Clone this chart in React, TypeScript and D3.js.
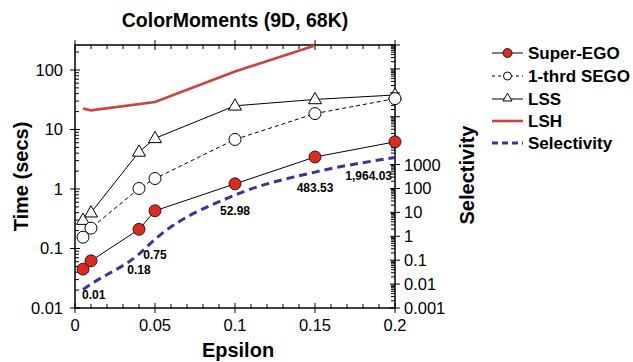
import React from "react";
import * as d3 from "d3";

const epsilons = [0.005, 0.01, 0.04, 0.05, 0.1, 0.15, 0.2];
const superEgo = [0.045, 0.062, 0.21, 0.43, 1.22, 3.45, 6.2];
const thirdSego = [0.155, 0.22, 1.02, 1.5, 6.8, 18.5, 33];
const lss = [0.3, 0.4, 4.2, 7.1, 25, 32, 38];
const lshEps = [0.005, 0.01, 0.05, 0.1, 0.15];
const lsh = [22.5, 21, 29, 94, 258];
const selectivity = [0.006, 0.01, 0.18, 0.75, 52.98, 483.53, 1964.03];
const selLabels = ["0.01", "0.18", "0.75", "52.98", "483.53", "1,964.03"];
const selLabelIdx = [0, 2, 3, 4, 5, 6];
const xTicks = [0, 0.05, 0.1, 0.15, 0.2];
const xTickLabels = ["0", "0.05", "0.1", "0.15", "0.2"];
const yTicks = [0.01, 0.1, 1, 10, 100];
const yTickLabels = ["0.01", "0.1", "1", "10", "100"];
const y2Ticks = [0.001, 0.01, 0.1, 1, 10, 100, 1000];
const y2TickLabels = ["0.001", "0.01", "0.1", "1", "10", "100", "1000"];
const legendNames = ["Super-EGO", "1-thrd SEGO", "LSS", "LSH", "Selectivity"];

const FONT = "Liberation Sans, Arial, Helvetica, sans-serif";
const L = 75, R = 395, T = 45, B = 308;

export default function App() {
  const x = d3.scaleLinear().domain([0, 0.2]).range([L, R]);
  const y = d3.scaleLog().domain([0.01, 263]).range([B, T]);
  const y2 = d3.scaleLog().domain([0.001, 1e8]).range([B, T]);

  const line = (xs: number[], ys: number[], sc: any, curve: any = d3.curveLinear) =>
    d3.line<number>().x((_, i) => x(xs[i])).y((v) => sc(v)).curve(curve)(ys) || "";

  const xMinor = d3.range(0, 0.2001, 0.01).filter((v) => Math.abs((v / 0.05) - Math.round(v / 0.05)) > 1e-6);
  const logMinor = (lo: number, hi: number) => {
    const out: number[] = [];
    for (let e = Math.round(Math.log10(lo)); e < Math.round(Math.log10(hi)) + 1; e++) {
      for (let m = 2; m <= 9; m++) {
        const v = m * Math.pow(10, e);
        if (v > lo && v < hi) out.push(v);
      }
    }
    return out;
  };
  const yMinor = logMinor(0.01, 263);
  const y2Major = d3.range(-3, 9).map((e) => Math.pow(10, e));
  const y2Minor = logMinor(0.001, 1e8);

  const tri = (cx: number, cy: number, s: number) => {
    const h = s * Math.sqrt(3) / 2;
    return `M${cx},${cy - h * 0.62}L${cx + s / 2},${cy + h * 0.38}L${cx - s / 2},${cy + h * 0.38}Z`;
  };

  const legY = [53, 76, 99, 121, 143];
  const lx0 = 492, lx1 = 523, lxm = 507.5;

  return (
    <svg width={633} height={362} style={{ display: "block", position: "absolute", left: 0, top: 0 }} fontFamily={FONT}>
      <rect x={0} y={0} width={633} height={362} fill="#fff" />
      <text x={235} y={27} textAnchor="middle" fontSize={19.5} fontWeight="bold">ColorMoments (9D, 68K)</text>

      {/* ticks */}
      <g stroke="#000" strokeWidth={1}>
        {xTicks.map((t, i) => (
          <g key={"xt" + i}>
            <line x1={x(t)} x2={x(t)} y1={B - 5} y2={B + 5} />
            <line x1={x(t)} x2={x(t)} y1={T - 5} y2={T + 5} />
          </g>
        ))}
        {xMinor.map((t, i) => (
          <g key={"xm" + i}>
            <line x1={x(t)} x2={x(t)} y1={B} y2={B - 4} />
            <line x1={x(t)} x2={x(t)} y1={T} y2={T + 4} />
          </g>
        ))}
        {yTicks.map((t, i) => (
          <line key={"yt" + i} x1={L - 5} x2={L + 5} y1={y(t)} y2={y(t)} />
        ))}
        {yMinor.map((t, i) => (
          <line key={"ym" + i} x1={L} x2={L + 4} y1={y(t)} y2={y(t)} />
        ))}
        {y2Major.map((t, i) => (
          <line key={"y2t" + i} x1={R - 5} x2={R + 5} y1={y2(t)} y2={y2(t)} />
        ))}
        {y2Minor.map((t, i) => (
          <line key={"y2m" + i} x1={R} x2={R - 4} y1={y2(t)} y2={y2(t)} />
        ))}
      </g>
      <rect x={L} y={T} width={R - L} height={B - T} fill="none" stroke="#000" strokeWidth={1.5} />

      {/* tick labels */}
      <g fontSize={16.5} fill="#000">
        {xTicks.map((t, i) => (
          <text key={"xl" + i} x={x(t)} y={331} textAnchor="middle">{xTickLabels[i]}</text>
        ))}
        {yTicks.map((t, i) => (
          <text key={"yl" + i} x={63} y={y(t) + 6} textAnchor="end">{yTickLabels[i]}</text>
        ))}
        {y2Ticks.map((t, i) => (
          <text key={"y2l" + i} x={404} y={y2(t) + 6} textAnchor="start">{y2TickLabels[i]}</text>
        ))}
      </g>

      {/* axis titles */}
      <text x={238} y={357} textAnchor="middle" fontSize={20} fontWeight="bold">Epsilon</text>
      <text transform={`translate(28,176.5) rotate(-90)`} textAnchor="middle" fontSize={20} fontWeight="bold">Time (secs)</text>
      <text transform={`translate(474,175) rotate(-90)`} textAnchor="middle" fontSize={20} fontWeight="bold">Selectivity</text>

      {/* lines */}
      <path d={line(lshEps, lsh, y)} fill="none" stroke="#c9443d" strokeWidth={2.6} />
      <path d={line(epsilons, selectivity, y2, d3.curveMonotoneX)} fill="none" stroke="#3a31a2" strokeWidth={3} strokeDasharray="8,5" />
      <path d={line(epsilons, lss, y)} fill="none" stroke="#000" strokeWidth={1} />
      <path d={line(epsilons, thirdSego, y)} fill="none" stroke="#000" strokeWidth={1} strokeDasharray="4,3" />
      <path d={line(epsilons, superEgo, y)} fill="none" stroke="#000" strokeWidth={1} />

      {/* markers */}
      {epsilons.map((e, i) => (
        <path key={"tr" + i} d={tri(x(e), y(lss[i]), 13)} fill="#fff" stroke="#000" strokeWidth={1} />
      ))}
      {epsilons.map((e, i) => (
        <circle key={"oc" + i} cx={x(e)} cy={y(thirdSego[i])} r={6} fill="#fff" stroke="#000" strokeWidth={1} />
      ))}
      {epsilons.map((e, i) => (
        <circle key={"rc" + i} cx={x(e)} cy={y(superEgo[i])} r={6} fill="#dc2a1f" stroke="#000" strokeWidth={0.8} />
      ))}

      {/* selectivity labels */}
      <g fontSize={12} fontWeight="bold">
        {selLabels.map((s, i) => {
          const k = selLabelIdx[i];
          const px = x(epsilons[k]);
          const py = y2(selectivity[k]);
          if (i === 0) return <text key={"sl" + i} x={px - 1} y={py + 10} textAnchor="start">{s}</text>;
          if (k === epsilons.length - 1) return <text key={"sl" + i} x={px - 3} y={py + 22} textAnchor="end">{s}</text>;
          return <text key={"sl" + i} x={px} y={py + 20} textAnchor="middle">{s}</text>;
        })}
      </g>

      {/* legend */}
      <g>
        <line x1={lx0} x2={lx1} y1={legY[0]} y2={legY[0]} stroke="#000" strokeWidth={1} />
        <circle cx={lxm} cy={legY[0]} r={4.5} fill="#dc2a1f" stroke="#000" strokeWidth={0.8} />
        <line x1={lx0} x2={lx1} y1={legY[1]} y2={legY[1]} stroke="#000" strokeWidth={1} strokeDasharray="3,3" />
        <circle cx={lxm} cy={legY[1]} r={4} fill="#fff" stroke="#000" strokeWidth={1} />
        <line x1={lx0} x2={lx1} y1={legY[2]} y2={legY[2]} stroke="#000" strokeWidth={1} />
        <path d={tri(lxm, legY[2] - 1, 9)} fill="#fff" stroke="#000" strokeWidth={1} />
        <line x1={lx0} x2={lx1} y1={legY[3]} y2={legY[3]} stroke="#c9443d" strokeWidth={2.6} />
        <line x1={lx0} x2={lx1} y1={legY[4]} y2={legY[4]} stroke="#3a31a2" strokeWidth={3} strokeDasharray="6,4" />
        {legendNames.map((n, i) => (
          <text key={"lg" + i} x={528} y={legY[i] + 6} fontSize={17} fontWeight="bold">{n}</text>
        ))}
      </g>
    </svg>
  );
}
